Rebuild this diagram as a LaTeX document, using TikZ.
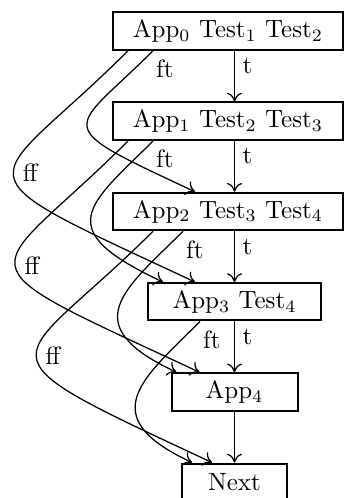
\documentclass[tikz,border=0pt]{standalone}
\usepackage{amsmath}
\usetikzlibrary{arrows.meta,positioning}

\begin{document}
\begin{tikzpicture}[x=0.4pt, y=0.4pt, >={To[length=3.5pt,width=6pt]}, line width=0.5pt, node distance=20.3pt]
    \tikzstyle{block}=[draw=black, line width=0.8pt, minimum height=15pt, inner sep=2pt]
    \tikzstyle{lbl}=[inner sep=1pt]
    \tikzstyle{back}=[->, out=225, in=155]
    \useasboundingbox (0,0) rectangle (343,498);
    \node[block, minimum width=92pt]   (App0) at (228,467)      {App$_0$ Test$_1$ Test$_2$};
    \node[block, minimum width=92pt]   (App1)[below=of App0]    {App$_1$ Test$_2$ Test$_3$};
    \node[block, minimum width=92pt]   (App2)[below=of App1]    {App$_2$ Test$_3$ Test$_4$};
    \node[block, minimum width=69.2pt] (App3)[below=of App2, xshift=2.6pt] {App$_3$ Test$_4$};
    \node[block, minimum width=50.4pt] (App4)[below=of App3]    {App$_4$};
    \node[block, minimum width=42pt]   (Next)[below=of App4]    {Next};
    \path[->]
(App0.south -| App4) edge node[lbl,right=2pt,pos=.3]{t}   (App1.north -| App4)
(App1.south -| App4) edge node[lbl,right=2pt,pos=.3]{t}   (App2.north -| App4)
(App2.south -| App4) edge node[lbl,right=2pt,pos=.3]{t}   (App3.north -| App4)
(App3.south -| App4) edge node[lbl,right=2pt,pos=.3]{t}   (App4.north)
(App4.south)         edge                                 (Next.north);
    \path
([xshift=-30pt]App0.south)   edge[back, out looseness=2.05, in looseness=2.85] node[lbl,pos=0,anchor=north west,yshift=-2.5pt]{ft} ([xshift=-13.2pt]App2.north)
([xshift=-40pt]App0.south)   edge[back, out looseness=2.13, in looseness=2.96] node[lbl,pos=.48,right=2.5pt]{ff}                  ([xshift=-15.8pt]App3.north)
([xshift=-30pt]App1.south)   edge[back, out looseness=1.64, in looseness=2.28] node[lbl,pos=0,anchor=north west,yshift=-2.5pt]{ft} ([xshift=-28.6pt]App3.north)
([xshift=-40pt]App1.south)   edge[back, out looseness=2.13, in looseness=2.96] node[lbl,pos=.5,right=2.5pt]{ff}                   ([xshift=-14pt]App4.north)
([xshift=-18pt]App2.south)   edge[back, out looseness=1.48, in looseness=2.05] node[lbl,pos=0,anchor=north west,yshift=-2.5pt]{ft} ([xshift=-23.2pt]App4.north)
([xshift=-30pt]App2.south)   edge[back, out looseness=2.13, in looseness=2.96] node[lbl,pos=.5,right=2.5pt]{ff}                   ([xshift=-9pt]Next.north)
([xshift=-13.8pt]App3.south) edge[back, out looseness=1.44, in looseness=2.0]  node[lbl,pos=0,anchor=north west,yshift=-2.5pt]{ft} ([xshift=-17pt]Next.north);
\end{tikzpicture}
\end{document}
